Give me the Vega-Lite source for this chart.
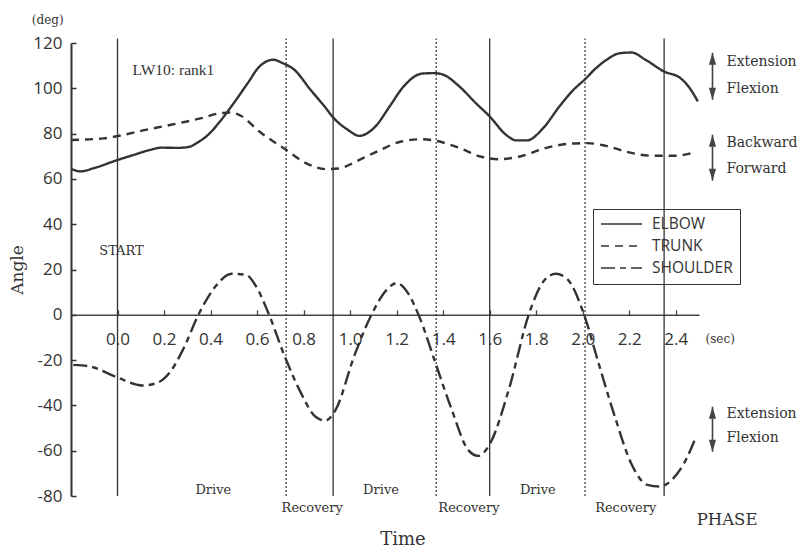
{
  "$schema": "https://vega.github.io/schema/vega-lite/v6.json",
  "width": 628,
  "height": 453,
  "autosize": "none",
  "padding": {"left": 71, "top": 43, "right": 102, "bottom": 53},
  "background": "white",
  "config": {"view": {"stroke": null}, "font": "DejaVu Serif"},
  "datasets": {
    "curves": [
      {"t": -0.2, "v": 64.5, "joint": "ELBOW"}, {"t": -0.16, "v": 63.3, "joint": "ELBOW"}, {"t": -0.1, "v": 64.8, "joint": "ELBOW"}, {"t": -0.01, "v": 68, "joint": "ELBOW"}, {"t": 0.07, "v": 70.6, "joint": "ELBOW"}, {"t": 0.14, "v": 72.8, "joint": "ELBOW"}, {"t": 0.19, "v": 73.8, "joint": "ELBOW"}, {"t": 0.26, "v": 73.7, "joint": "ELBOW"}, {"t": 0.31, "v": 74.2, "joint": "ELBOW"}, {"t": 0.34, "v": 75.8, "joint": "ELBOW"}, {"t": 0.39, "v": 79.5, "joint": "ELBOW"}, {"t": 0.44, "v": 85.3, "joint": "ELBOW"}, {"t": 0.5, "v": 93.5, "joint": "ELBOW"}, {"t": 0.56, "v": 102.3, "joint": "ELBOW"}, {"t": 0.61, "v": 109.6, "joint": "ELBOW"}, {"t": 0.67, "v": 112.6, "joint": "ELBOW"}, {"t": 0.71, "v": 111.1, "joint": "ELBOW"}, {"t": 0.76, "v": 108.2, "joint": "ELBOW"}, {"t": 0.83, "v": 99.3, "joint": "ELBOW"}, {"t": 0.89, "v": 92, "joint": "ELBOW"}, {"t": 0.93, "v": 86.8, "joint": "ELBOW"}, {"t": 0.99, "v": 81.7, "joint": "ELBOW"}, {"t": 1.04, "v": 79, "joint": "ELBOW"}, {"t": 1.08, "v": 80.6, "joint": "ELBOW"}, {"t": 1.11, "v": 83.3, "joint": "ELBOW"}, {"t": 1.17, "v": 92, "joint": "ELBOW"}, {"t": 1.23, "v": 100.8, "joint": "ELBOW"}, {"t": 1.31, "v": 106.5, "joint": "ELBOW"}, {"t": 1.36, "v": 106.7, "joint": "ELBOW"}, {"t": 1.4, "v": 106, "joint": "ELBOW"}, {"t": 1.47, "v": 100.8, "joint": "ELBOW"}, {"t": 1.54, "v": 93.5, "joint": "ELBOW"}, {"t": 1.6, "v": 87.6, "joint": "ELBOW"}, {"t": 1.67, "v": 79.5, "joint": "ELBOW"}, {"t": 1.715, "v": 77, "joint": "ELBOW"}, {"t": 1.76, "v": 77, "joint": "ELBOW"}, {"t": 1.83, "v": 82.4, "joint": "ELBOW"}, {"t": 1.9, "v": 92, "joint": "ELBOW"}, {"t": 1.96, "v": 99.3, "joint": "ELBOW"}, {"t": 2.01, "v": 104, "joint": "ELBOW"}, {"t": 2.05, "v": 108.2, "joint": "ELBOW"}, {"t": 2.1, "v": 112.4, "joint": "ELBOW"}, {"t": 2.16, "v": 115.5, "joint": "ELBOW"}, {"t": 2.21, "v": 115.8, "joint": "ELBOW"}, {"t": 2.27, "v": 112.6, "joint": "ELBOW"}, {"t": 2.35, "v": 107.4, "joint": "ELBOW"}, {"t": 2.42, "v": 104.5, "joint": "ELBOW"}, {"t": 2.46, "v": 100.1, "joint": "ELBOW"}, {"t": 2.495, "v": 94.2, "joint": "ELBOW"},
      {"t": -0.2, "v": 77.2, "joint": "TRUNK"}, {"t": -0.06, "v": 77.9, "joint": "TRUNK"}, {"t": -0.01, "v": 78.7, "joint": "TRUNK"}, {"t": 0.11, "v": 81.4, "joint": "TRUNK"}, {"t": 0.23, "v": 83.9, "joint": "TRUNK"}, {"t": 0.36, "v": 86.8, "joint": "TRUNK"}, {"t": 0.44, "v": 89, "joint": "TRUNK"}, {"t": 0.49, "v": 89.3, "joint": "TRUNK"}, {"t": 0.53, "v": 87.9, "joint": "TRUNK"}, {"t": 0.61, "v": 80.9, "joint": "TRUNK"}, {"t": 0.72, "v": 73.2, "joint": "TRUNK"}, {"t": 0.81, "v": 67, "joint": "TRUNK"}, {"t": 0.9, "v": 64.3, "joint": "TRUNK"}, {"t": 0.95, "v": 64.6, "joint": "TRUNK"}, {"t": 1.04, "v": 68.4, "joint": "TRUNK"}, {"t": 1.13, "v": 72.8, "joint": "TRUNK"}, {"t": 1.22, "v": 76.5, "joint": "TRUNK"}, {"t": 1.31, "v": 77.5, "joint": "TRUNK"}, {"t": 1.37, "v": 76.8, "joint": "TRUNK"}, {"t": 1.47, "v": 73.6, "joint": "TRUNK"}, {"t": 1.56, "v": 69.9, "joint": "TRUNK"}, {"t": 1.64, "v": 68.7, "joint": "TRUNK"}, {"t": 1.73, "v": 69.9, "joint": "TRUNK"}, {"t": 1.84, "v": 73.6, "joint": "TRUNK"}, {"t": 1.94, "v": 75.5, "joint": "TRUNK"}, {"t": 2.02, "v": 75.8, "joint": "TRUNK"}, {"t": 2.1, "v": 74.6, "joint": "TRUNK"}, {"t": 2.2, "v": 71.7, "joint": "TRUNK"}, {"t": 2.3, "v": 70.2, "joint": "TRUNK"}, {"t": 2.4, "v": 70.2, "joint": "TRUNK"}, {"t": 2.48, "v": 71.7, "joint": "TRUNK"},
      {"t": -0.19, "v": -22.1, "joint": "SHOULDER"}, {"t": -0.12, "v": -22.8, "joint": "SHOULDER"}, {"t": 0.0, "v": -27.7, "joint": "SHOULDER"}, {"t": 0.105, "v": -31.2, "joint": "SHOULDER"}, {"t": 0.167, "v": -30.2, "joint": "SHOULDER"}, {"t": 0.228, "v": -25, "joint": "SHOULDER"}, {"t": 0.281, "v": -15.5, "joint": "SHOULDER"}, {"t": 0.351, "v": 0.7, "joint": "SHOULDER"}, {"t": 0.421, "v": 12.5, "joint": "SHOULDER"}, {"t": 0.491, "v": 18.1, "joint": "SHOULDER"}, {"t": 0.552, "v": 17.7, "joint": "SHOULDER"}, {"t": 0.596, "v": 12.5, "joint": "SHOULDER"}, {"t": 0.649, "v": 0.7, "joint": "SHOULDER"}, {"t": 0.719, "v": -18.4, "joint": "SHOULDER"}, {"t": 0.789, "v": -34.6, "joint": "SHOULDER"}, {"t": 0.85, "v": -44.9, "joint": "SHOULDER"}, {"t": 0.894, "v": -46.7, "joint": "SHOULDER"}, {"t": 0.938, "v": -41.9, "joint": "SHOULDER"}, {"t": 1.017, "v": -18.4, "joint": "SHOULDER"}, {"t": 1.095, "v": 0.7, "joint": "SHOULDER"}, {"t": 1.157, "v": 11, "joint": "SHOULDER"}, {"t": 1.2, "v": 14, "joint": "SHOULDER"}, {"t": 1.244, "v": 10.3, "joint": "SHOULDER"}, {"t": 1.297, "v": -0.7, "joint": "SHOULDER"}, {"t": 1.367, "v": -21.3, "joint": "SHOULDER"}, {"t": 1.437, "v": -41.9, "joint": "SHOULDER"}, {"t": 1.507, "v": -59.6, "joint": "SHOULDER"}, {"t": 1.551, "v": -62.3, "joint": "SHOULDER"}, {"t": 1.603, "v": -56.6, "joint": "SHOULDER"}, {"t": 1.682, "v": -33.1, "joint": "SHOULDER"}, {"t": 1.77, "v": 0.7, "joint": "SHOULDER"}, {"t": 1.831, "v": 14.7, "joint": "SHOULDER"}, {"t": 1.884, "v": 18.1, "joint": "SHOULDER"}, {"t": 1.936, "v": 15.5, "joint": "SHOULDER"}, {"t": 2.006, "v": 0, "joint": "SHOULDER"}, {"t": 2.068, "v": -21.3, "joint": "SHOULDER"}, {"t": 2.138, "v": -44.9, "joint": "SHOULDER"}, {"t": 2.208, "v": -65.5, "joint": "SHOULDER"}, {"t": 2.278, "v": -75.1, "joint": "SHOULDER"}, {"t": 2.33, "v": -75.8, "joint": "SHOULDER"}, {"t": 2.384, "v": -72.8, "joint": "SHOULDER"}, {"t": 2.436, "v": -65.5, "joint": "SHOULDER"}, {"t": 2.488, "v": -53.7, "joint": "SHOULDER"}
    ],
    "phases": [
      {"t": 0.0, "event": "catch"}, {"t": 0.927, "event": "catch"}, {"t": 1.6, "event": "catch"}, {"t": 2.35, "event": "catch"},
      {"t": 0.725, "event": "finish"}, {"t": 1.37, "event": "finish"}, {"t": 2.01, "event": "finish"}
    ],
    "arrows": [
      {"t": 2.558, "top": 115.7, "bottom": 94.9},
      {"t": 2.558, "top": 79.5, "bottom": 59.2},
      {"t": 2.558, "top": -40.6, "bottom": -60.5}
    ],
    "texts": [
      {"t": 0.412, "v": -77.3, "text": "Drive", "group": "phase"},
      {"t": 1.133, "v": -77.3, "text": "Drive", "group": "phase"},
      {"t": 1.807, "v": -77.3, "text": "Drive", "group": "phase"},
      {"t": 0.837, "v": -85.2, "text": "Recovery", "group": "phase"},
      {"t": 1.511, "v": -85.2, "text": "Recovery", "group": "phase"},
      {"t": 2.185, "v": -85.2, "text": "Recovery", "group": "phase"},
      {"t": 0.017, "v": 28.3, "text": "START", "group": "phase"},
      {"t": 2.618, "v": 111.7, "text": "Extension", "group": "side"},
      {"t": 2.618, "v": 99.8, "text": "Flexion", "group": "side"},
      {"t": 2.618, "v": 75.9, "text": "Backward", "group": "side"},
      {"t": 2.618, "v": 64.5, "text": "Forward", "group": "side"},
      {"t": 2.618, "v": -43.7, "text": "Extension", "group": "side"},
      {"t": 2.618, "v": -54.3, "text": "Flexion", "group": "side"},
      {"t": 0.064, "v": 108, "text": "LW10: rank1", "group": "id"},
      {"t": 2.49, "v": -90.5, "text": "PHASE", "group": "phasehead"},
      {"t": 1.227, "v": -99.5, "text": "Time", "group": "xtitle"},
      {"t": 2.528, "v": -10.6, "text": "(sec)", "group": "unit"},
      {"t": -0.3, "v": 130.2, "text": "(deg)", "group": "unitc"}
    ]
  },
  "layer": [
    {
      "data": {"name": "phases"},
      "transform": [{"filter": "datum.event == 'catch'"}],
      "mark": {"type": "rule", "color": "#333", "strokeWidth": 1.3},
      "encoding": {
        "x": {"field": "t", "type": "quantitative", "scale": {"domain": [-0.2, 2.5], "nice": false, "zero": false},
          "axis": {"orient": "bottom", "offset": -181.2, "values": [0, 0.2, 0.4, 0.6, 0.8, 1.0, 1.2, 1.4, 1.6, 1.8, 2.0, 2.2, 2.4], "format": ".1f", "title": null, "grid": false, "tickSize": -5, "labelPadding": 22, "labelFont": "Open Sans", "labelFontSize": 17, "labelColor": "#333", "domainColor": "#444", "tickColor": "#444", "domainWidth": 1.5, "tickWidth": 1.3, "labelOverlap": false, "labelFlush": false}},
        "y": {"datum": -80, "type": "quantitative", "scale": {"domain": [-80, 120], "nice": false, "zero": false},
          "axis": {"title": "Angle", "values": [-80, -60, -40, -20, 0, 20, 40, 60, 80, 100, 120], "labelExpr": "'' + datum.value", "grid": false, "tickSize": -5, "labelPadding": 14, "labelFont": "Open Sans", "labelFontSize": 17, "labelColor": "#333", "domainColor": "#333", "tickColor": "#333", "domainWidth": 2, "tickWidth": 1.5, "labelOverlap": false, "labelFlush": false, "titleFont": "DejaVu Serif", "titleFontSize": 17, "titleFontWeight": "normal", "titleColor": "#333", "titlePadding": 6}},
        "y2": {"datum": 122}
      }
    },
    {
      "data": {"name": "phases"},
      "transform": [{"filter": "datum.event == 'finish'"}],
      "mark": {"type": "rule", "color": "#333", "strokeWidth": 1.2, "strokeDash": [2, 2]},
      "encoding": {
        "x": {"field": "t", "type": "quantitative"},
        "y": {"datum": -80, "type": "quantitative"},
        "y2": {"datum": 122}
      }
    },
    {
      "data": {"name": "curves"},
      "mark": {"type": "line", "color": "#333", "strokeWidth": 2.4, "interpolate": "monotone"},
      "encoding": {
        "x": {"field": "t", "type": "quantitative"},
        "y": {"field": "v", "type": "quantitative"},
        "strokeDash": {"field": "joint", "type": "nominal",
          "scale": {"domain": ["ELBOW", "TRUNK", "SHOULDER"], "range": [[1, 0], [8, 6], [14, 5, 6, 5]]},
          "legend": {"orient": "none", "legendX": 522, "legendY": 166, "title": null, "strokeColor": "#333", "padding": 7,
            "symbolType": "M-1,0H4.86", "symbolSize": 196, "symbolStrokeWidth": 1.6, "symbolStrokeColor": "#333",
            "labelOffset": 36, "labelFont": "Open Sans", "labelFontSize": 15.5, "labelColor": "#333", "rowPadding": 5}}
      }
    },
    {
      "data": {"name": "texts"},
      "transform": [{"filter": "datum.group == 'phase'"}],
      "mark": {"type": "text", "font": "DejaVu Serif", "fontSize": 13, "color": "#333", "align": "center", "baseline": "middle"},
      "encoding": {"x": {"field": "t", "type": "quantitative"}, "y": {"field": "v", "type": "quantitative"}, "text": {"field": "text"}}
    },
    {
      "data": {"name": "texts"},
      "transform": [{"filter": "datum.group == 'side'"}],
      "mark": {"type": "text", "font": "DejaVu Serif", "fontSize": 14, "color": "#333", "align": "left", "baseline": "middle"},
      "encoding": {"x": {"field": "t", "type": "quantitative"}, "y": {"field": "v", "type": "quantitative"}, "text": {"field": "text"}}
    },
    {
      "data": {"name": "texts"},
      "transform": [{"filter": "datum.group == 'id'"}],
      "mark": {"type": "text", "font": "Liberation Serif", "fontSize": 15.5, "color": "#333", "align": "left", "baseline": "middle"},
      "encoding": {"x": {"field": "t", "type": "quantitative"}, "y": {"field": "v", "type": "quantitative"}, "text": {"field": "text"}}
    },
    {
      "data": {"name": "texts"},
      "transform": [{"filter": "datum.group == 'phasehead'"}],
      "mark": {"type": "text", "font": "DejaVu Serif", "fontSize": 16.5, "color": "#333", "align": "left", "baseline": "middle"},
      "encoding": {"x": {"field": "t", "type": "quantitative"}, "y": {"field": "v", "type": "quantitative"}, "text": {"field": "text"}}
    },
    {
      "data": {"name": "texts"},
      "transform": [{"filter": "datum.group == 'xtitle'"}],
      "mark": {"type": "text", "font": "DejaVu Serif", "fontSize": 18, "color": "#333", "align": "center", "baseline": "middle"},
      "encoding": {"x": {"field": "t", "type": "quantitative"}, "y": {"field": "v", "type": "quantitative"}, "text": {"field": "text"}}
    },
    {
      "data": {"name": "texts"},
      "transform": [{"filter": "datum.group == 'unit'"}],
      "mark": {"type": "text", "font": "DejaVu Serif", "fontSize": 12, "color": "#333", "align": "left", "baseline": "middle"},
      "encoding": {"x": {"field": "t", "type": "quantitative"}, "y": {"field": "v", "type": "quantitative"}, "text": {"field": "text"}}
    },
    {
      "data": {"name": "texts"},
      "transform": [{"filter": "datum.group == 'unitc'"}],
      "mark": {"type": "text", "font": "DejaVu Serif", "fontSize": 12, "color": "#333", "align": "center", "baseline": "middle"},
      "encoding": {"x": {"field": "t", "type": "quantitative"}, "y": {"field": "v", "type": "quantitative"}, "text": {"field": "text"}}
    },
    {
      "data": {"name": "arrows"},
      "mark": {"type": "rule", "color": "#444", "strokeWidth": 1.6},
      "encoding": {"x": {"field": "t", "type": "quantitative"}, "y": {"field": "top", "type": "quantitative"}, "y2": {"field": "bottom"}}
    },
    {
      "data": {"name": "arrows"},
      "mark": {"type": "point", "shape": "M0,0L0.6,2L-0.6,2Z", "size": 144, "filled": true, "color": "#444", "opacity": 1, "strokeWidth": 0},
      "encoding": {"x": {"field": "t", "type": "quantitative"}, "y": {"field": "top", "type": "quantitative"}}
    },
    {
      "data": {"name": "arrows"},
      "mark": {"type": "point", "shape": "M0,0L0.6,-2L-0.6,-2Z", "size": 144, "filled": true, "color": "#444", "opacity": 1, "strokeWidth": 0},
      "encoding": {"x": {"field": "t", "type": "quantitative"}, "y": {"field": "bottom", "type": "quantitative"}}
    }
  ]
}
